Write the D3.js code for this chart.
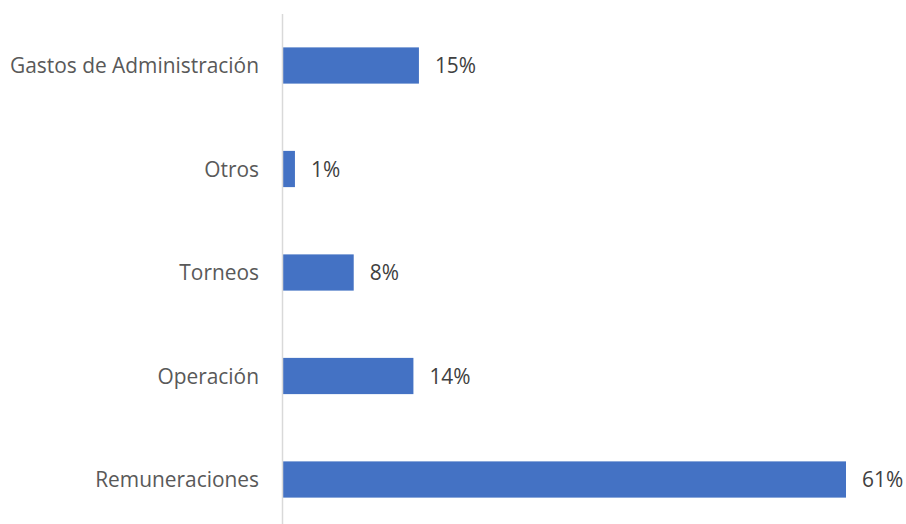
<!DOCTYPE html>
<html>
<head>
<meta charset="utf-8">
<script src="https://cdn.jsdelivr.net/npm/d3@7"></script>
<style>
  html, body { margin: 0; padding: 0; background: #fff; }
  svg { display: block; }
</style>
</head>
<body>
<svg id="chart" width="906" height="524"></svg>
<script>
const categories = ["Gastos de Administración", "Otros", "Torneos", "Operación", "Remuneraciones"];
const values = [14.8, 1.3, 7.7, 14.2, 61.3];
const labels = ["15%", "1%", "8%", "14%", "61%"];

const svg = d3.select("#chart");
const x = d3.scaleLinear().domain([0, 61.3]).range([283, 846]);
const y = d3.scaleBand().domain(categories).range([13.75, 531.25])
  .paddingInner(0.65).paddingOuter(0.325);

const font = "Open Sans, sans-serif";

svg.selectAll("rect.bar").data(categories).enter().append("rect")
  .attr("class", "bar")
  .attr("x", x(0))
  .attr("y", d => y(d))
  .attr("width", (d, i) => x(values[i]) - x(0))
  .attr("height", y.bandwidth())
  .attr("fill", "#4472C4");

svg.append("line")
  .attr("x1", 282.5).attr("x2", 282.5)
  .attr("y1", 14).attr("y2", 524)
  .attr("stroke", "#d9d9d9").attr("stroke-width", 1.5);

svg.selectAll("text.cat").data(categories).enter().append("text")
  .attr("class", "cat")
  .attr("x", 259)
  .attr("y", d => y(d) + y.bandwidth() / 2)
  .attr("dy", "0.38em")
  .attr("text-anchor", "end")
  .attr("font-family", font)
  .attr("font-size", 20.9)
  .attr("fill", "#595959")
  .text(d => d);

svg.selectAll("text.val").data(categories).enter().append("text")
  .attr("class", "val")
  .attr("x", (d, i) => x(values[i]) + 16)
  .attr("y", d => y(d) + y.bandwidth() / 2)
  .attr("dy", "0.38em")
  .attr("font-family", font)
  .attr("font-size", 20.9)
  .attr("fill", "#404040")
  .text((d, i) => labels[i]);
</script>
</body>
</html>
